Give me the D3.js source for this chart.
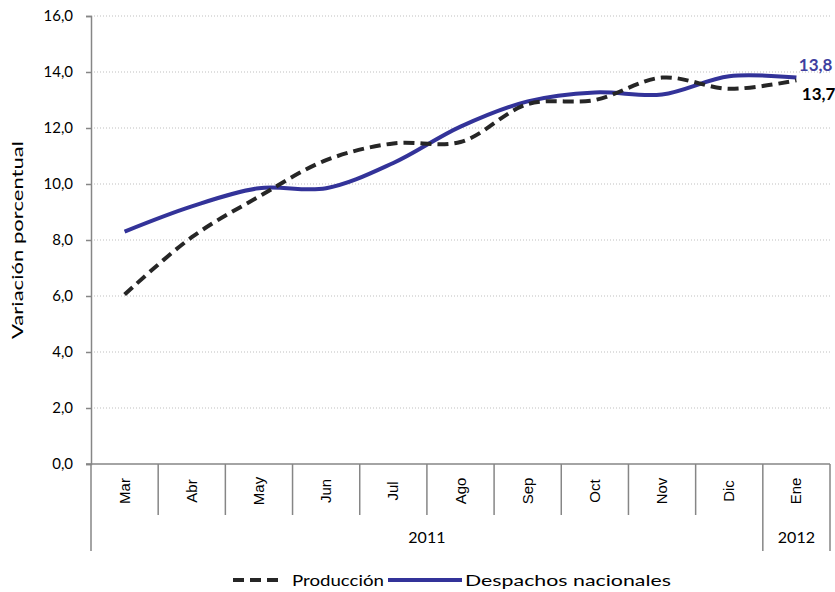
<!DOCTYPE html>
<html>
<head>
<meta charset="utf-8">
<script src="https://cdn.jsdelivr.net/npm/d3@7"></script>
<style>
  body { margin: 0; background: #fff; }
  text { font-family: Lato, "Open Sans", sans-serif; fill: #000; }
</style>
</head>
<body>
<svg id="chart" width="835" height="592"></svg>
<script>
"use strict";

// data ********************************************************
var months = ["Mar", "Abr", "May", "Jun", "Jul", "Ago", "Sep", "Oct", "Nov", "Dic", "Ene"];
var years = [{ label: "2011", from: "Mar", to: "Dic" }, { label: "2012", from: "Ene", to: "Ene" }];
var produccion = [6.05, 8.1, 9.55, 10.85, 11.45, 11.5, 12.85, 13.0, 13.8, 13.4, 13.7];
var despachos = [8.3, 9.2, 9.85, 9.85, 10.75, 12.05, 12.95, 13.27, 13.2, 13.85, 13.8];
var yTicks = [0, 2, 4, 6, 8, 10, 12, 14, 16];

// layout ******************************************************
var svg = d3.select("#chart");
var plotL = 91, plotR = 830, plotT = 16, plotB = 464;

var x = d3.scaleBand().domain(months).range([plotL, plotR]);
var y = d3.scaleLinear().domain([0, 16]).range([plotB, plotT]);
var fmt = function(v) { return d3.format(".1f")(v).replace(".", ","); };

// gridlines
svg.append("g").selectAll("line")
  .data(yTicks.filter(function(d) { return d > 0; }))
  .enter().append("line")
  .attr("x1", plotL).attr("x2", plotR)
  .attr("y1", function(d) { return y(d); })
  .attr("y2", function(d) { return y(d); })
  .attr("stroke", "#bfbfbf")
  .attr("stroke-width", 1)
  .attr("stroke-dasharray", "1,2");

// y axis
var yAxis = svg.append("g")
  .attr("transform", "translate(" + plotL + ",0)")
  .call(d3.axisLeft(y).tickValues(yTicks).tickSize(5).tickPadding(13).tickFormat(fmt));
yAxis.select(".domain").attr("stroke", "#868686").attr("stroke-width", 1.5);
yAxis.selectAll(".tick line").attr("stroke", "#868686").attr("stroke-width", 1.5);
yAxis.selectAll(".tick text")
  .style("font-family", "Lato, sans-serif")
  .style("font-size", "15px")
  .attr("fill", "#000");

svg.append("text")
  .attr("transform", "translate(23," + ((plotT + plotB) / 2) + ") rotate(-90)")
  .attr("text-anchor", "middle")
  .attr("textLength", 198)
  .attr("lengthAdjust", "spacingAndGlyphs")
  .style("font-size", "16px")
  .text("Variación porcentual");

// x axis: category row + year row
svg.append("line")
  .attr("x1", plotL - 5).attr("x2", plotR)
  .attr("y1", plotB).attr("y2", plotB)
  .attr("stroke", "#868686").attr("stroke-width", 1.5);

var edges = months.map(function(m) { return x(m); }).concat([plotR]);
svg.append("g").selectAll("line")
  .data(edges)
  .enter().append("line")
  .attr("x1", function(d) { return d; })
  .attr("x2", function(d) { return d; })
  .attr("y1", plotB)
  .attr("y2", function(d, i) {
    var isYearEdge = i === 0 || i === edges.length - 1 || months[i] === "Ene";
    return isYearEdge ? 551 : 515;
  })
  .attr("stroke", "#868686").attr("stroke-width", 1.5);

svg.append("g").selectAll("text")
  .data(months)
  .enter().append("text")
  .attr("transform", function(d) {
    return "translate(" + (x(d) + x.bandwidth() / 2 + 5) + ",491) rotate(-90)";
  })
  .attr("text-anchor", "middle")
  .style("font-family", "'Liberation Sans', Arial, sans-serif")
  .style("font-size", "15px")
  .text(function(d) { return d; });

svg.append("g").selectAll("text")
  .data(years)
  .enter().append("text")
  .attr("x", function(d) { return (x(d.from) + x(d.to) + x.bandwidth()) / 2; })
  .attr("y", 543)
  .attr("text-anchor", "middle")
  .style("font-size", "16px")
  .text(function(d) { return d.label; });

// lines
var line = d3.line()
  .x(function(d, i) { return x(months[i]) + x.bandwidth() / 2; })
  .y(function(d) { return y(d); })
  .curve(d3.curveCatmullRom.alpha(0.5));

svg.append("path")
  .datum(despachos)
  .attr("d", line)
  .attr("fill", "none")
  .attr("stroke", "#333399")
  .attr("stroke-width", 4);

svg.append("path")
  .datum(produccion)
  .attr("d", line)
  .attr("fill", "none")
  .attr("stroke", "#262626")
  .attr("stroke-width", 4)
  .attr("stroke-dasharray", "11,6");

// end labels
var last = months.length - 1;
var xLast = x(months[last]) + x.bandwidth() / 2;
svg.append("text")
  .attr("x", xLast + 36).attr("y", y(despachos[last]) - 7)
  .attr("text-anchor", "end")
  .style("font-size", "17px").style("font-weight", "bold")
  .style("fill", "#3f3f9f")
  .text(fmt(despachos[last]));
svg.append("text")
  .attr("x", xLast + 39).attr("y", y(produccion[last]) + 20)
  .attr("text-anchor", "end")
  .style("font-size", "17px").style("font-weight", "bold")
  .text(fmt(produccion[last]));

// legend
var legend = svg.append("g").attr("transform", "translate(0,580)");
legend.append("line")
  .attr("x1", 233).attr("x2", 284).attr("y1", 0).attr("y2", 0)
  .attr("stroke", "#262626").attr("stroke-width", 4).attr("stroke-dasharray", "11,6");
legend.append("text").attr("x", 292).attr("y", 6)
  .attr("textLength", 92).attr("lengthAdjust", "spacingAndGlyphs")
  .style("font-size", "16px").text("Producción");
legend.append("line")
  .attr("x1", 388).attr("x2", 462).attr("y1", 0).attr("y2", 0)
  .attr("stroke", "#333399").attr("stroke-width", 4);
legend.append("text").attr("x", 465).attr("y", 6)
  .attr("textLength", 206).attr("lengthAdjust", "spacingAndGlyphs")
  .style("font-size", "16px").text("Despachos nacionales");
</script>
</body>
</html>
